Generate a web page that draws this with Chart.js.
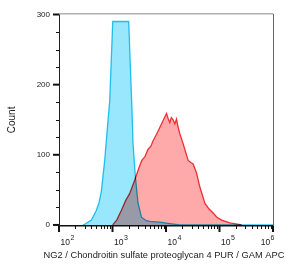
<!DOCTYPE html>
<html>
<head>
<meta charset="utf-8">
<script src="https://cdn.jsdelivr.net/npm/chart.js@4"></script>
<style>
  body { margin: 0; background: #fff; }
</style>
</head>
<body>
<canvas id="histo" width="285" height="268"></canvas>
<script>
// isotype control (blue) - fluorescence value / count
const isoValues = [280, 301, 403, 499, 560, 619, 714, 824, 887, 1010, 2009, 2316, 2420, 2684, 3005, 3477, 4312, 4973, 7660, 11790, 18100, 1000000];
const isoCounts = [0, 1, 7, 21, 32, 48, 92, 149, 177, 290, 290, 163, 116, 68, 31, 11, 6, 5, 4, 2, 0, 0];

// NG2 stained (red)
const ng2Values = [1009, 1199, 1468, 1767, 2100, 2605, 3135, 3523, 4009, 4622, 5193, 5734, 6725, 7654, 8824, 10220, 11040, 11780, 12570, 13590, 14610, 15730, 16630, 18130, 20900, 23490, 25940, 29140, 32180, 37250, 42960, 53300, 63300, 76200, 89400, 109500, 156600, 259400];
const ng2Counts = [0, 7, 21, 35, 45, 64, 82, 92, 97, 108, 112, 120, 130, 139, 149, 159, 151, 146, 153, 150, 144, 151, 141, 130, 116, 103, 92, 89, 87, 74, 54, 31, 23, 17, 11, 7, 3, 0];

// axis ticks
const xMajor = [1e2, 1e3, 1e4, 1e5, 1e6];
const yMajor = [0, 100, 200, 300];
const yMinorStep = 25;
const xTitle = 'NG2 / Chondroitin sulfate proteoglycan 4 PUR / GAM APC';

const FONT = '"Liberation Sans", Arial, sans-serif';

function toPoints(xs, ys) {
    return xs.map((v, i) => ({x: v, y: ys[i]}));
}

// overlapping fills mix like in the cytometer export
const blendPlugin = {
    id: 'blend',
    beforeDatasetsDraw(chart) {
        chart.ctx.save();
        chart.ctx.globalCompositeOperation = 'multiply';
    },
    afterDatasetsDraw(chart) {
        chart.ctx.restore();
    }
};

// frame, tick marks, 10^n labels and the x title (wider than the plot)
const axisPlugin = {
    id: 'axisMarks',
    afterDraw(chart) {
        const ctx = chart.ctx;
        const area = chart.chartArea;
        const xs = chart.scales.x, ys = chart.scales.y;
        ctx.save();

        // top and right frame
        ctx.strokeStyle = '#b0b0b0';
        ctx.lineWidth = 1.5;
        ctx.beginPath();
        ctx.moveTo(area.left, area.top);
        ctx.lineTo(area.right, area.top);
        ctx.stroke();
        ctx.strokeStyle = '#666';
        ctx.lineWidth = 1;
        ctx.beginPath();
        ctx.moveTo(area.right + 0.5, area.top);
        ctx.lineTo(area.right + 0.5, area.bottom);
        ctx.stroke();

        ctx.strokeStyle = '#111';
        // x ticks
        for (let d = 0; d < xMajor.length; d++) {
            const v = xMajor[d];
            let px = xs.getPixelForValue(v);
            ctx.lineWidth = 2;
            ctx.beginPath();
            ctx.moveTo(px, area.bottom);
            ctx.lineTo(px, area.bottom + 6);
            ctx.stroke();
            if (d < xMajor.length - 1) {
                ctx.lineWidth = 1;
                for (let m = 2; m <= 9; m++) {
                    const mx = Math.round(xs.getPixelForValue(v * m)) + 0.5;
                    ctx.beginPath();
                    ctx.moveTo(mx, area.bottom);
                    ctx.lineTo(mx, area.bottom + 3);
                    ctx.stroke();
                }
            }
        }
        // y ticks
        for (let v = yMajor[0]; v <= yMajor[yMajor.length - 1]; v += yMinorStep) {
            const py = ys.getPixelForValue(v);
            const major = yMajor.includes(v);
            ctx.lineWidth = major ? 2 : 1;
            ctx.beginPath();
            ctx.moveTo(area.left, major ? py : Math.round(py) + 0.5);
            ctx.lineTo(area.left - (major ? 6 : 3), major ? py : Math.round(py) + 0.5);
            ctx.stroke();
        }

        // x labels 10^n
        ctx.fillStyle = '#222';
        ctx.textBaseline = 'alphabetic';
        ctx.textAlign = 'left';
        xMajor.forEach(v => {
            const exp = String(Math.round(Math.log10(v)));
            ctx.font = '8.5px ' + FONT;
            const wBase = ctx.measureText('10').width;
            ctx.font = '7px ' + FONT;
            const wExp = ctx.measureText(exp).width;
            let x0 = xs.getPixelForValue(v) + 1.5;
            if (x0 + wBase + wExp + 1 > area.right + 2) x0 = area.right + 2 - wBase - wExp - 1;
            ctx.font = '8.5px ' + FONT;
            ctx.fillText('10', x0, area.bottom + 18.5);
            ctx.font = '7px ' + FONT;
            ctx.fillText(exp, x0 + wBase + 0.5, area.bottom + 13.5);
        });

        // x title
        ctx.font = '9.3px ' + FONT;
        ctx.textAlign = 'center';
        ctx.textBaseline = 'middle';
        ctx.fillText(xTitle, (area.left + area.right) / 2 - 2, area.bottom + 29);
        ctx.restore();
    }
};

const data = {
    datasets: [{
        label: 'NG2',
        data: toPoints(ng2Values, ng2Counts),
        borderColor: 'rgb(238, 55, 64)',
        backgroundColor: 'rgb(255, 170, 170)',
        borderWidth: 1.3,
        fill: 'origin',
        pointRadius: 0,
        tension: 0
    }, {
        label: 'Isotype',
        data: toPoints(isoValues, isoCounts),
        borderColor: 'rgb(40, 200, 240)',
        backgroundColor: 'rgb(152, 231, 252)',
        borderWidth: 1.3,
        fill: 'origin',
        pointRadius: 0,
        tension: 0
    }]
};

const config = {
    type: 'line',
    data: data,
    options: {
        responsive: false,
        animation: false,
        layout: { padding: { top: 12, right: 12 } },
        plugins: {
            legend: { display: false },
            tooltip: { enabled: false }
        },
        scales: {
            x: {
                type: 'logarithmic',
                min: 100,
                max: 1000000,
                grid: { display: false, drawTicks: false },
                border: { display: true, color: '#111', width: 1.5 },
                ticks: { display: false },
                afterFit: s => { s.height = 42; },
                title: { display: false }
            },
            y: {
                type: 'linear',
                min: -1.5,
                max: 301,
                grid: { display: false, drawTicks: false },
                border: { display: true, color: '#222', width: 1 },
                afterBuildTicks: s => { s.ticks = yMajor.map(v => ({value: v})); },
                afterFit: s => { s.width = 59; },
                ticks: {
                    padding: 9,
                    color: '#222',
                    font: { family: FONT, size: 8 },
                    callback: v => String(v)
                },
                title: {
                    display: true,
                    text: 'Count',
                    color: '#222',
                    font: { family: FONT, size: 10 },
                    padding: { top: 6, bottom: 0 }
                }
            }
        }
    },
    plugins: [blendPlugin, axisPlugin]
};

let ctx = document.getElementById('histo').getContext('2d');
new Chart(ctx, config);
</script>
</body>
</html>
